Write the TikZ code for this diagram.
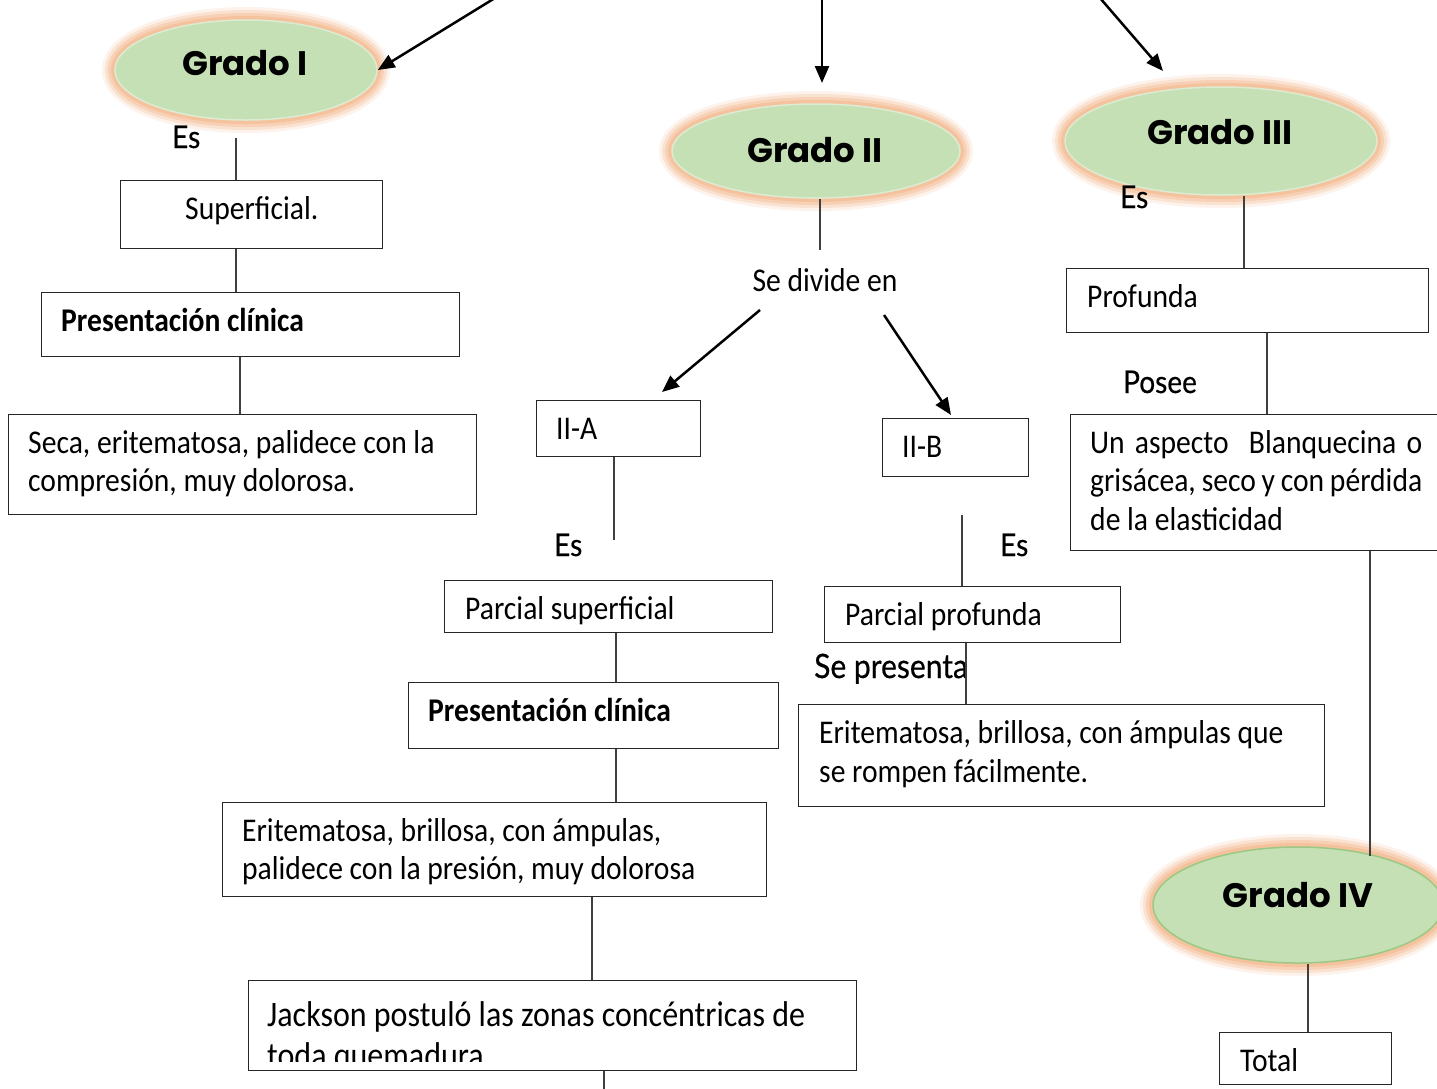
\documentclass[tikz,border=0pt]{standalone}
\usepackage{fontspec}
\setmainfont{Carlito}
\newfontfamily\lblfont{Lato}[FakeBold=0.5]
\newfontfamily\gradofont{Poppins}
\usetikzlibrary{shapes.geometric,arrows.meta}
\definecolor{gfill}{HTML}{C5E0B4}
\definecolor{glow}{HTML}{F4B183}
\definecolor{lnc}{HTML}{404040}
\definecolor{gfour}{HTML}{9BC985}
\newcommand\vs[1]{\scalebox{1}[1.12]{#1}}
\begin{document}
\begin{tikzpicture}[x=1pt,y=-1pt,
 box/.style={draw=black!85, line width=1.3pt, inner sep=0pt, anchor=north west},
 conn/.style={draw=lnc, line width=1.5pt},
 arr/.style={draw=black, line width=2.5pt, -{Triangle[length=17pt,width=14pt]}},
 grado/.style={ellipse, fill=gfill, inner sep=0pt, line width=1.5pt, draw=gfill!60!white,
   preaction={draw=glow, line width=26pt, opacity=0.15},
   preaction={draw=glow, line width=20pt, opacity=0.25},
   preaction={draw=glow, line width=14pt, opacity=0.35},
   preaction={draw=glow, line width=8pt, opacity=0.45}},
 txt/.style={anchor=base west, inner sep=0pt, font=\fontsize{29.6}{38}\selectfont},
 txtb/.style={anchor=base west, inner sep=0pt, font=\fontsize{29.6}{38}\selectfont\bfseries},
 lbl/.style={anchor=base west, inner sep=0pt, font=\lblfont\fontsize{28}{34}\selectfont},
 gt/.style={inner sep=0pt, font=\gradofont\bfseries\fontsize{34}{40}\selectfont}
]
\useasboundingbox (0,0) rectangle (1437,1088);
\clip (0,0) rectangle (1437,1088);
\fill[white] (0,0) rectangle (1437,1088);

% grade ellipses
\node[grado, minimum width=262pt, minimum height=100pt] (g1) at (246,70) {};
\node[grado, minimum width=288pt, minimum height=94pt] (g2) at (816,151) {};
\node[grado, minimum width=312pt, minimum height=108pt] (g3) at (1221,141) {};
\node[grado, draw=gfour, minimum width=290pt, minimum height=116pt] (g4) at (1298,905) {};
\node[gt] (g1t) at (245,63) {Grado I};
\node[gt] (g2t) at (815,150) {Grado II};
\node[gt] (g3t) at (1220,132) {Grado III};
\node[gt] (g4t) at (1298,895) {Grado IV};

% boxes
\node[box, minimum width=262pt, minimum height=68pt] (sup) at (120,180) {};
\node[box, minimum width=418pt, minimum height=64pt] (pc1) at (41,292) {};
\node[box, minimum width=468pt, minimum height=100pt] (seca) at (8,414) {};
\node[box, minimum width=164pt, minimum height=56pt] (iia) at (536,400) {};
\node[box, minimum width=146pt, minimum height=58pt] (iib) at (882,418) {};
\node[box, minimum width=328pt, minimum height=52pt] (ps) at (444,580) {};
\node[box, minimum width=370pt, minimum height=66pt] (pc2) at (408,682) {};
\node[box, minimum width=544pt, minimum height=94pt] (er1) at (222,802) {};
\node[box, minimum width=608pt, minimum height=90pt] (jk) at (248,980) {};
\node[box, minimum width=296pt, minimum height=56pt] (pp) at (824,586) {};
\node[box, minimum width=526pt, minimum height=102pt] (er2) at (798,704) {};
\node[box, minimum width=362pt, minimum height=64pt] (prof) at (1066,268) {};
\node[box, minimum width=380pt, minimum height=136pt] (ua) at (1070,414) {};
\node[box, minimum width=172pt, minimum height=52pt] (tot) at (1219,1032) {};

% box texts
\node[txt] (tsup) at (185,219) {\vs{Superficial.}};
\node[txtb] (tpc1) at (61,331) {\vs{Presentación clínica}};
\node[txt] (tseca1) at (28,453) {\vs{Seca, eritematosa, palidece con la}};
\node[txt] (tseca2) at (28,491) {\vs{compresión, muy dolorosa.}};
\node[txt, anchor=base] (tsd) at (825,291) {\vs{Se divide en}};
\node[txt] (tiia) at (556,439) {\vs{II-A}};
\node[txt] (tiib) at (902,457) {\vs{II-B}};
\node[txt] (tps) at (465,619) {\vs{Parcial superficial}};
\node[txtb] (tpc2) at (428,721) {\vs{Presentación clínica}};
\node[txt] (ter11) at (242,841) {\vs{Eritematosa, brillosa, con ámpulas,}};
\node[txt] (ter12) at (242,879) {\vs{palidece con la presión, muy dolorosa}};
\begin{scope}
\clip (248,980) rectangle (856,1061);
\node[txt, font=\fontsize{32}{40}\selectfont] (tjk1) at (267,1026) {\vs{Jackson postuló las zonas concéntricas de}};
\node[txt, font=\fontsize{32}{40}\selectfont] (tjk2) at (267,1067) {\vs{toda quemadura}};
\end{scope}
\node[txt] (tpp) at (845,625) {\vs{Parcial profunda}};
\node[txt] (ter21) at (819,743) {\vs{Eritematosa, brillosa, con ámpulas que}};
\node[txt] (ter22) at (819,782) {\vs{se rompen fácilmente.}};
\node[txt] (tprof) at (1087,307) {\vs{Profunda}};
\node[txt] (tua1) at (1090,453) {\vs{\makebox[332pt][s]{Un aspecto \ Blanquecina o}}};
\node[txt] (tua2) at (1090,491) {\vs{\makebox[332pt][s]{grisácea, seco y con pérdida}}};
\node[txt] (tua3) at (1090,530) {\vs{de la elasticidad}};
\node[txt] (ttot) at (1240,1071) {\vs{Total}};

% link labels
\node[lbl] (es1) at (172,148) {\vs{Es}};
\node[lbl] (es2) at (554,556) {\vs{Es}};
\node[lbl] (es3) at (1000,556) {\vs{Es}};
\node[lbl] (es4) at (1120,208) {\vs{Es}};
\node[lbl] (posee) at (1123,393) {\vs{Posee}};
\node[lbl, font=\lblfont\fontsize{30}{36}\selectfont] (sepres) at (814,678) {\vs{Se presenta}};

% free ends
\coordinate (t1) at (495,-2);
\coordinate (t2) at (822,-2);
\coordinate (t2e) at (822,83);
\coordinate (t3) at (1100,-2);
\coordinate (t3e) at (1163,71);
\coordinate (c1) at (236,138);
\coordinate (c2) at (820,250);
\coordinate (c3) at (760,310);
\coordinate (c4) at (662,392);
\coordinate (c5) at (884,315);
\coordinate (c6) at (951,415);
\coordinate (c7) at (614,540);
\coordinate (c8) at (962,515);
\coordinate (c9) at (604,1092);
\coordinate (c10) at (1370,856);

% arrows
\draw[arr] (t1) -- (g1.east);
\draw[arr] (t2) -- (t2e);
\draw[arr] (t3) -- (t3e);
\draw[arr] (c3) -- (c4);
\draw[arr] (c5) -- (c6);

% connectors
\draw[conn] (c1) -- (sup.north -| c1);
\draw[conn] (sup.south -| 236,0) -- (pc1.north -| 236,0);
\draw[conn] (pc1.south -| 240,0) -- (seca.north -| 240,0);
\draw[conn] (g2.south -| c2) -- (c2);
\draw[conn] (iia.south -| c7) -- (c7);
\draw[conn] (c8) -- (pp.north -| c8);
\draw[conn] (pp.south -| 966,0) -- (er2.north -| 966,0);
\draw[conn] (ps.south -| 616,0) -- (pc2.north -| 616,0);
\draw[conn] (pc2.south -| 616,0) -- (er1.north -| 616,0);
\draw[conn] (er1.south -| 592,0) -- (jk.north -| 592,0);
\draw[conn] (jk.south -| c9) -- (c9);
\draw[conn] (g3.south -| 1244,0) -- (prof.north -| 1244,0);
\draw[conn] (prof.south -| 1267,0) -- (ua.north -| 1267,0);
\draw[conn] (ua.south -| c10) -- (c10);
\draw[conn] (g4.south -| 1308,0) -- (tot.north -| 1308,0);
\end{tikzpicture}
\end{document}
